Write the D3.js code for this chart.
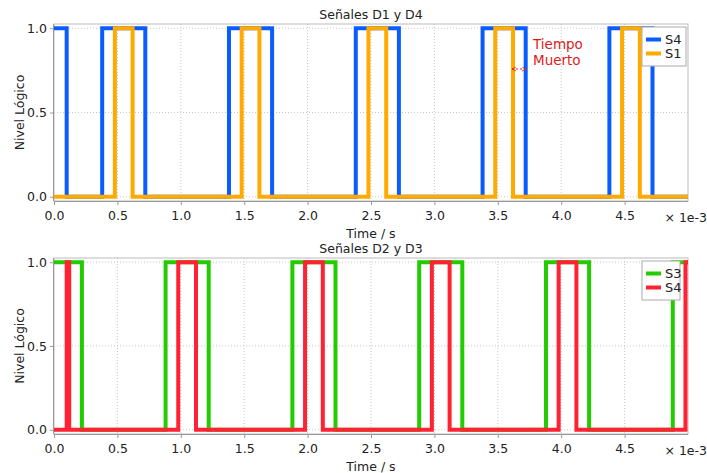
<!DOCTYPE html>
<html lang="es">
<head>
<meta charset="utf-8">
<title>Señales D1-D4</title>
<script src="https://cdn.jsdelivr.net/npm/d3@7"></script>
<style>
  body { margin: 0; background: #fff; }
  text { font-family: "DejaVu Sans", Verdana, sans-serif; fill: #222; }
  .grid line { stroke: #c8c8c8; stroke-dasharray: 1,2; }
  .axis path, .axis line { stroke: #999; }
</style>
</head>
<body>
<script>
// tiempos en ms (eje en unidades de 1e-3 s)
var xTicks = [0, 0.5, 1, 1.5, 2, 2.5, 3, 3.5, 4, 4.5];
var yTicks = [0, 0.5, 1];

var s4Times  = [0, 0.1, 0.38, 0.72, 1.38, 1.72, 2.38, 2.72, 3.38, 3.72, 4.38, 4.72, 5.0];
var s4Levels = [1, 0,   1,    0,    1,    0,    1,    0,    1,    0,    1,    0,    0];

var s1Times  = [0, 0.48, 0.62, 1.48, 1.62, 2.48, 2.62, 3.48, 3.62, 4.48, 4.62, 5.0];
var s1Levels = [0, 1,    0,    1,    0,    1,    0,    1,    0,    1,    0,    0];

var s3Times  = [0, 0.22, 0.88, 1.22, 1.88, 2.22, 2.88, 3.22, 3.88, 4.22, 4.88, 5.0];
var s3Levels = [1, 0,    1,    0,    1,    0,    1,    0,    1,    0,    1,    1];

var s4bTimes  = [0, 0.1, 0.12, 0.98, 1.12, 1.98, 2.12, 2.98, 3.12, 3.98, 4.12, 4.98, 5.0];
var s4bLevels = [0, 1,   0,    1,    0,    1,    0,    1,    0,    1,    0,    1,    1];

var deadTime = [3.62, 3.72];

var w = 707, h = 473;

var svg = d3.select("body").append("svg")
  .attr("width", w).attr("height", h);

var defs = svg.append("defs");
["a1", "a2"].forEach(function(id) {
  defs.append("marker")
    .attr("id", id)
    .attr("viewBox", "0 0 6 6")
    .attr("refX", 5).attr("refY", 3)
    .attr("markerWidth", 5).attr("markerHeight", 5)
    .attr("orient", "auto-start-reverse")
    .append("path")
    .attr("d", "M0,0.5 L5,3 L0,5.5")
    .attr("fill", "none")
    .attr("stroke", "#e02020")
    .attr("stroke-width", 1);
});

function zip(t, v) {
  return t.map(function(d, i) { return [d, v[i]]; });
}

function panel(cfg) {
  var x = d3.scaleLinear().domain([0, 5]).range([54, 688]);
  var y = d3.scaleLinear().domain([-0.025, 1.025]).range([cfg.bottom, cfg.top]);
  var g = svg.append("g");

  // rejilla
  var grid = g.append("g").attr("class", "grid");
  grid.selectAll(".gx").data(xTicks.slice(1)).enter().append("line")
    .attr("x1", function(d) { return x(d); }).attr("x2", function(d) { return x(d); })
    .attr("y1", cfg.top).attr("y2", cfg.bottom);
  grid.selectAll(".gy").data(yTicks).enter().append("line")
    .attr("x1", 54).attr("x2", 688)
    .attr("y1", function(d) { return y(d); }).attr("y2", function(d) { return y(d); });

  // marco
  g.append("rect")
    .attr("x", 54).attr("y", cfg.top)
    .attr("width", 634).attr("height", cfg.bottom - cfg.top)
    .attr("fill", "none").attr("stroke", "#bbb");

  var clipId = "clip" + cfg.top;
  defs.append("clipPath").attr("id", clipId).append("rect")
    .attr("x", 54).attr("y", cfg.top - 3)
    .attr("width", 634).attr("height", cfg.bottom - cfg.top + 6);

  var line = d3.line()
    .x(function(d) { return x(d[0]); })
    .y(function(d) { return y(d[1]); })
    .curve(d3.curveStepAfter);

  cfg.series.forEach(function(s) {
    g.append("path")
      .datum(zip(s.t, s.v))
      .attr("clip-path", "url(#" + clipId + ")")
      .attr("d", line)
      .attr("fill", "none")
      .attr("stroke", s.color)
      .attr("stroke-width", 4);
  });

  // ejes
  var xa = g.append("g").attr("class", "axis")
    .attr("transform", "translate(0," + cfg.bottom + ")")
    .call(d3.axisBottom(x).tickValues(xTicks).tickFormat(d3.format(".1f")).tickSize(4).tickPadding(6));
  xa.selectAll("text").style("font-size", "12.5px").attr("fill", "#222");

  var ya = g.append("g").attr("class", "axis")
    .attr("transform", "translate(54,0)")
    .call(d3.axisLeft(y).tickValues(yTicks).tickFormat(d3.format(".1f")).tickSize(4).tickPadding(3));
  ya.selectAll("text").style("font-size", "12.5px").attr("fill", "#222");
  ya.select(".domain").attr("d", "M-0.5," + cfg.top + "V" + cfg.bottom);
  xa.select(".domain").attr("d", "M54,0.5H688");

  g.append("text")
    .attr("x", 707).attr("y", cfg.bottom + 21)
    .attr("text-anchor", "end").style("font-size", "12.5px")
    .text("× 1e-3");

  g.append("text")
    .attr("x", 371).attr("y", cfg.bottom + 37)
    .attr("text-anchor", "middle").style("font-size", "12.5px")
    .text("Time / s");

  g.append("text")
    .attr("x", 371).attr("y", cfg.top - 5)
    .attr("text-anchor", "middle").style("font-size", "12.5px")
    .text(cfg.title);

  g.append("text")
    .attr("transform", "translate(24," + ((cfg.top + cfg.bottom) / 2) + ") rotate(-90)")
    .attr("text-anchor", "middle").style("font-size", "12.5px")
    .text("Nivel Lógico");

  // leyenda
  var lg = g.append("g").attr("transform", "translate(642," + (cfg.top + 3) + ")");
  lg.append("rect").attr("x", 0).attr("y", 0).attr("width", cfg.legendW).attr("height", 39)
    .attr("fill", "#fff").attr("stroke", "#aaa");
  cfg.series.forEach(function(s, i) {
    var yy = 12.5 + i * 14;
    lg.append("line").attr("x1", 4).attr("x2", 19).attr("y1", yy).attr("y2", yy)
      .attr("stroke", s.color).attr("stroke-width", 4);
    lg.append("text").attr("x", 23).attr("y", yy + 4.5).style("font-size", "13px").text(s.name);
  });

  return { x: x, y: y, g: g };
}

var top1 = panel({
  top: 24, bottom: 201, title: "Señales D1 y D4", legendW: 44,
  series: [
    { name: "S4", t: s4Times, v: s4Levels, color: "#0a5cff" },
    { name: "S1", t: s1Times, v: s1Levels, color: "#ffaa00" }
  ]
});

panel({
  top: 258, bottom: 434, title: "Señales D2 y D3", legendW: 38,
  series: [
    { name: "S3", t: s3Times, v: s3Levels, color: "#22cc00" },
    { name: "S4", t: s4bTimes, v: s4bLevels, color: "#ff2233" }
  ]
});

// anotación tiempo muerto
top1.g.append("line")
  .attr("x1", top1.x(deadTime[0]) - 1).attr("x2", top1.x(deadTime[1]) + 0.5)
  .attr("y1", 69).attr("y2", 69)
  .attr("stroke", "#e02020").attr("stroke-width", 1)
  .attr("stroke-dasharray", "2,2")
  .attr("marker-start", "url(#a1)").attr("marker-end", "url(#a2)");

var ann = top1.g.append("text")
  .attr("x", 533).attr("y", 49)
  .style("font-size", "13.5px")
  .style("fill", "#dd1a1a");
ann.append("tspan").attr("x", 533).text("Tiempo");
ann.append("tspan").attr("x", 533).attr("dy", 15.5).text("Muerto");
</script>
</body>
</html>
